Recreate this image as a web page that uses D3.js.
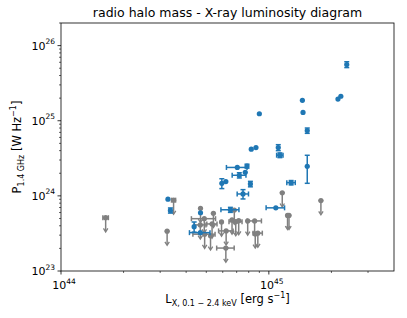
<!DOCTYPE html>
<html>
<head>
<meta charset="utf-8">
<script src="https://cdn.jsdelivr.net/npm/d3@7"></script>
<style>
  body { margin: 0; background: #fff; }
  text { font-family: "DejaVu Sans", sans-serif; fill: #000; }
</style>
</head>
<body>
<div id="chart"></div>
<script>
var width = 407;
var height = 318;
var margin = {top: 23, right: 13, bottom: 47, left: 61};

// detections (blue), symmetric linear errors
var detX = [2.37e45, 2.22e45, 2.15e45, 1.45e45, 1.46e45, 9.0e44, 1.53e45, 1.11e45, 1.13e45, 8.67e44,
            8.23e44, 1.53e45, 7.85e44, 7.05e44, 7.7e44, 7.21e44, 6.21e44, 5.94e44, 8.15e44, 1.28e45,
            7.51e44, 1.08e45, 6.53e44, 3.27e44, 3.36e44, 4.69e44, 4.37e44, 4.68e44];
var detY = [5.6e25, 2.12e25, 1.94e25, 1.87e25, 1.29e25, 1.24e25, 7.4e24, 4.4e24, 3.48e24, 4.4e24,
            4.18e24, 2.47e24, 2.49e24, 2.39e24, 2.06e24, 1.88e24, 1.55e24, 1.47e24, 1.44e24, 1.5e24,
            1.06e24, 6.93e23, 6.53e23, 9.04e23, 6.4e23, 5.96e23, 3.89e23, 3.24e23];
var detXerr = [0, 0, 0, 0, 0, 0, 0, 0, 0.4e44, 0,
               0, 0, 0, 0.8e44, 0, 0.55e44, 0, 0, 0, 0.6e44,
               0.47e44, 1.1e44, 0.65e44, 0, 0, 0, 0, 0.53e44];
var detYerr = [0.5e25, 0, 0, 0, 0, 0, 0.6e24, 0.4e24, 0.25e24, 0,
               0, 1.0e24, 0.15e24, 0, 0, 0.15e24, 0, 0.22e24, 0.12e24, 0.1e24,
               0.15e24, 0, 0.5e23, 0, 0.5e23, 0, 0.6e23, 0];

// upper limits (grey)
var limX = [1.64e44, 3.24e44, 3.48e44, 4.69e44, 4.89e44, 5.41e44, 5.33e44, 4.68e44, 4.91e44, 5.24e44,
            5.92e44, 6.23e44, 6.21e44, 6.65e44, 6.82e44, 6.93e44, 7.16e44, 7.91e44, 8.54e44, 8.6e44,
            8.85e44, 1.16e45, 1.23e45, 1.25e45, 1.78e45];
var limY = [5.12e23, 3.39e23, 8.77e23, 6.82e23, 4.97e23, 5.85e23, 4.23e23, 4.11e23, 3.09e23, 2.94e23,
            4.5e23, 3.42e23, 2.02e23, 4.78e23, 6.47e23, 4.54e23, 4.68e23, 4.64e23, 4.64e23, 3.12e23,
            3.19e23, 1.1e24, 5.5e23, 5.5e23, 8.65e23];
var limXerr = [0.05e44, 0, 0.08e44, 0, 0.65e44, 0, 0.3e44, 0.3e44, 0.6e44, 0,
               0, 0.5e44, 0.6e44, 0, 0, 0.5e44, 0, 0, 0.67e44, 0,
               0.45e44, 0, 0, 0, 0];

var xTicks = [1e44, 1e45];
var yTicks = [1e23, 1e24, 1e25, 1e26];
var xMinor = [2e44, 3e44, 4e44, 5e44, 6e44, 7e44, 8e44, 9e44, 2e45, 3e45];
var yMinor = [];
[1e23, 1e24, 1e25, 1e26].forEach(function(d) {
    for (var k = 2; k <= 9; k++) if (d * k <= 2e26) yMinor.push(d * k);
});

var blue = "#1f77b4";
var grey = "#808080";

var svg = d3.select("#chart")
            .append("svg")
            .attr("width", width)
            .attr("height", height);

var x = d3.scaleLog()
    .domain([1e44, 4e45])
    .range([margin.left, width - margin.right]);

var y = d3.scaleLog()
    .domain([1e23, 2e26])
    .range([height - margin.bottom, margin.top]);

function sup(sel, base, exp) {
    sel.append("tspan").text(base);
    sel.append("tspan").attr("dy", -5.5).attr("font-size", "7.5px").text(exp);
}

// x axis
var xAxis = svg.append("g")
    .attr("transform", "translate(0," + (height - margin.bottom) + ")");
xAxis.selectAll(".minor").data(xMinor).enter().append("line")
    .attr("x1", function(d) { return x(d); })
    .attr("x2", function(d) { return x(d); })
    .attr("y1", 0).attr("y2", 2)
    .attr("stroke", "#000").attr("stroke-width", 0.6);
xAxis.selectAll(".major").data(xTicks).enter().append("line")
    .attr("x1", function(d) { return x(d); })
    .attr("x2", function(d) { return x(d); })
    .attr("y1", 0).attr("y2", 3.5)
    .attr("stroke", "#000").attr("stroke-width", 0.8);
xAxis.selectAll(".lab").data(xTicks).enter().append("text")
    .attr("x", function(d) { return x(d) + 3; })
    .attr("y", 18)
    .attr("text-anchor", "middle")
    .attr("font-size", "11px")
    .each(function(d) { sup(d3.select(this), "10", Math.round(Math.log10(d))); });

// y axis
var yAxis = svg.append("g")
    .attr("transform", "translate(" + margin.left + ",0)");
yAxis.selectAll(".minor").data(yMinor).enter().append("line")
    .attr("y1", function(d) { return y(d); })
    .attr("y2", function(d) { return y(d); })
    .attr("x1", 0).attr("x2", -2)
    .attr("stroke", "#000").attr("stroke-width", 0.6);
yAxis.selectAll(".major").data(yTicks).enter().append("line")
    .attr("y1", function(d) { return y(d); })
    .attr("y2", function(d) { return y(d); })
    .attr("x1", 0).attr("x2", -3.5)
    .attr("stroke", "#000").attr("stroke-width", 0.8);
yAxis.selectAll(".lab").data(yTicks).enter().append("text")
    .attr("x", -6)
    .attr("y", function(d) { return y(d) + 4; })
    .attr("text-anchor", "end")
    .attr("font-size", "11px")
    .each(function(d) { sup(d3.select(this), "10", Math.round(Math.log10(d))); });

// upper limits
var lim = svg.append("g")
    .attr("stroke", grey).attr("fill", grey).attr("stroke-width", 1.5);
limX.forEach(function(xv, i) {
    var px = x(xv), py = y(limY[i]), pb = y(limY[i] / 1.5);
    lim.append("line").attr("x1", px).attr("x2", px).attr("y1", py).attr("y2", pb);
    lim.append("line").attr("x1", px - 2.5).attr("x2", px + 2.5).attr("y1", py).attr("y2", py);
    lim.append("path")
        .attr("d", "M" + (px - 2.2) + "," + (pb - 2.5) + "L" + px + "," + (pb + 1) + "L" + (px + 2.2) + "," + (pb - 2.5))
        .attr("fill", "none").attr("stroke-width", 1.3);
    if (limXerr[i] > 0) {
        var x0 = x(xv - limXerr[i]), x1 = x(xv + limXerr[i]);
        lim.append("line").attr("x1", x0).attr("x2", x1).attr("y1", py).attr("y2", py);
        lim.append("line").attr("x1", x0).attr("x2", x0).attr("y1", py - 2.5).attr("y2", py + 2.5);
        lim.append("line").attr("x1", x1).attr("x2", x1).attr("y1", py - 2.5).attr("y2", py + 2.5);
    }
    lim.append("circle").attr("cx", px).attr("cy", py).attr("r", 2.6).attr("stroke", "none");
});

// detections
var det = svg.append("g")
    .attr("stroke", blue).attr("fill", blue).attr("stroke-width", 1.5);
detX.forEach(function(xv, i) {
    var px = x(xv), py = y(detY[i]);
    if (detXerr[i] > 0) {
        var x0 = x(xv - detXerr[i]), x1 = x(xv + detXerr[i]);
        det.append("line").attr("x1", x0).attr("x2", x1).attr("y1", py).attr("y2", py);
        det.append("line").attr("x1", x0).attr("x2", x0).attr("y1", py - 2.5).attr("y2", py + 2.5);
        det.append("line").attr("x1", x1).attr("x2", x1).attr("y1", py - 2.5).attr("y2", py + 2.5);
    }
    if (detYerr[i] > 0) {
        var y0 = y(detY[i] - detYerr[i]), y1 = y(detY[i] + detYerr[i]);
        det.append("line").attr("x1", px).attr("x2", px).attr("y1", y0).attr("y2", y1);
        det.append("line").attr("x1", px - 2.5).attr("x2", px + 2.5).attr("y1", y0).attr("y2", y0);
        det.append("line").attr("x1", px - 2.5).attr("x2", px + 2.5).attr("y1", y1).attr("y2", y1);
    }
    det.append("circle").attr("cx", px).attr("cy", py).attr("r", 2.6).attr("stroke", "none");
});

// frame
svg.append("rect")
    .attr("x", margin.left).attr("y", margin.top)
    .attr("width", width - margin.left - margin.right)
    .attr("height", height - margin.top - margin.bottom)
    .attr("fill", "none").attr("stroke", "#000").attr("stroke-width", 0.8);

// title
svg.append("text")
    .attr("x", (margin.left + width - margin.right) / 2)
    .attr("y", 17)
    .attr("text-anchor", "middle")
    .attr("font-size", "12.5px")
    .text("radio halo mass - X-ray luminosity diagram");

// x label
var xl = svg.append("text")
    .attr("x", (margin.left + width - margin.right) / 2)
    .attr("y", 303)
    .attr("text-anchor", "middle")
    .attr("font-size", "11.5px");
xl.append("tspan").text("L");
xl.append("tspan").attr("dy", 3).attr("font-size", "8px").text("X, 0.1 \u2212 2.4 keV");
xl.append("tspan").attr("dy", -3).text(" [erg s");
xl.append("tspan").attr("dy", -5).attr("font-size", "8px").text("\u22121");
xl.append("tspan").attr("dy", 5).text("]");

// y label
var yl = svg.append("text")
    .attr("transform", "translate(21," + ((margin.top + height - margin.bottom) / 2) + ") rotate(-90)")
    .attr("text-anchor", "middle")
    .attr("font-size", "11.5px");
yl.append("tspan").text("P");
yl.append("tspan").attr("dy", 3).attr("font-size", "8px").text("1.4 GHz");
yl.append("tspan").attr("dy", -3).text(" [W Hz");
yl.append("tspan").attr("dy", -5).attr("font-size", "8px").text("\u22121");
yl.append("tspan").attr("dy", 5).text("]");
</script>
</body>
</html>
